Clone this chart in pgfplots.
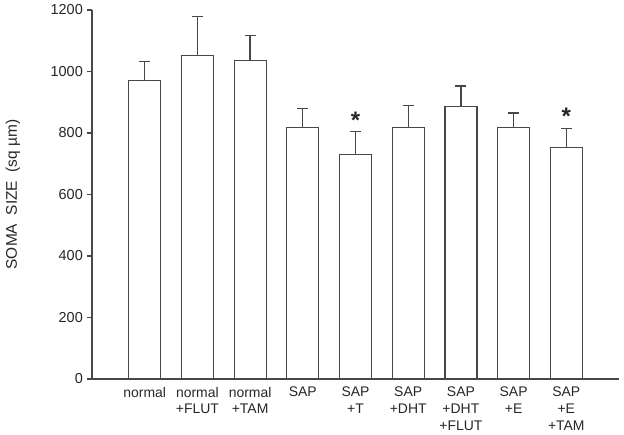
\documentclass[border=0pt]{standalone}
\usepackage{fontspec}
\setmainfont{Liberation Sans}
\usepackage{pgfplots}
\pgfplotsset{compat=1.18}
\definecolor{ink}{gray}{0.28}
\begin{document}
\begin{tikzpicture}
\useasboundingbox (-92bp,-56bp) rectangle (532bp,379bp);
\begin{axis}[
    at={(0,0)}, anchor=south west,
    width=527bp, height=369bp, scale only axis,
    xmin=-1, xmax=9, ymin=0, ymax=1200,
    axis x line=bottom, axis y line=left,
    axis line style={-, draw=ink, line width=1.1bp},
    ytick={0,200,...,1200},
    xtick={0,...,8},
    xticklabels={normal, {normal\\+FLUT}, {normal\\+TAM}, SAP, {SAP\\+T},
        {SAP\\+DHT}, {SAP\\+DHT\\+FLUT}, {SAP\\+E}, {SAP\\+E\\+TAM}},
    tick align=outside,
    major tick length=5bp,
    xtick style={draw=none},
    ytick style={draw=ink, line width=1.1bp},
    /pgf/number format/assume math mode=true,
    /pgf/number format/1000 sep={},
    tick label style={font=\fontsize{14}{16.6}\selectfont, text=black!85},
    yticklabel style={font=\fontsize{14.5}{17}\selectfont},
    xticklabel style={align=center, anchor=north, inner sep=0pt, yshift=-3bp},
    yticklabel style={anchor=east, inner sep=0pt, xshift=-4bp},
    ylabel={SOMA\ \ SIZE\ \ (sq µm)},
    ylabel style={font=\fontsize{15.5}{18}\selectfont, text=black!85,
        at={(axis description cs:-0.15,0.5)}, anchor=center, rotate=0},
]
\addplot[ybar, bar width=32bp, fill=white, draw=ink, line width=1.2bp,
    error bars/y dir=plus, error bars/y explicit, error bars/error mark=|,
    error bars/error bar style={line width=1.3bp, draw=ink},
    error bars/error mark options={mark size=5.5bp, line width=1.3bp, draw=ink}]
    table[x=x, y=y, y error plus=e, y error minus=m] {
x y e m
0 971 62 0
1 1053 125 0
2 1036 82 0
3 818 62 0
4 731 74 0
5 818 72 0
6 887 66 0
7 818 47 0
8 752 62 0
};
\node[font=\fontsize{24}{24}\bfseries, text=black!85] at (axis cs:4,842) {*};
\node[font=\fontsize{24}{24}\bfseries, text=black!85] at (axis cs:8,855) {*};
\end{axis}
\end{tikzpicture}
\end{document}
